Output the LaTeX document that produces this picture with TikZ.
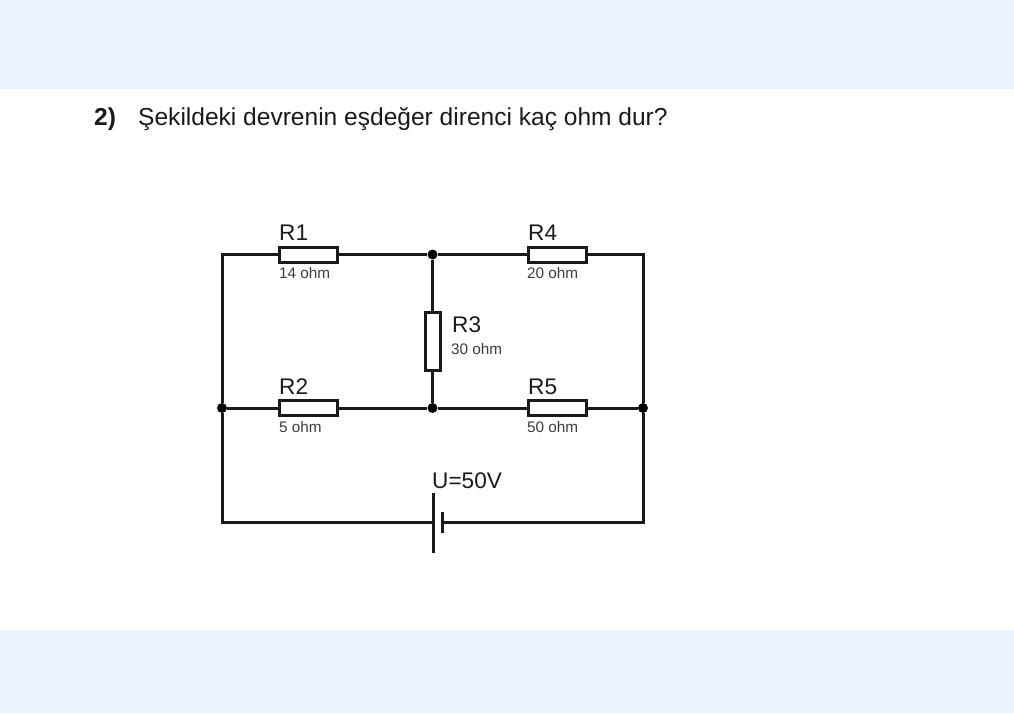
\documentclass[tikz,border=0pt]{standalone}
\usepackage{fontspec}
\setmainfont{Liberation Sans}
\usetikzlibrary{positioning}
\usetikzlibrary{calc}
\definecolor{bandblue}{HTML}{EAF2FE}
\definecolor{inkdark}{HTML}{1A1A1A}
\tikzset{
wire/.style={draw=inkdark,line width=3pt},
resbox/.style={shape=rectangle,draw=inkdark,line width=3pt,fill=white,minimum width=58pt,minimum height=15pt,inner sep=0pt},
resboxv/.style={resbox,minimum width=15pt,minimum height=58pt},
dot/.style={shape=circle,fill=black,inner sep=0pt,minimum size=10pt},
bigtext/.style={font=\fontsize{22.6}{26}\selectfont,text=inkdark,inner sep=0pt},
smalltext/.style={font=\fontsize{15.3}{18}\selectfont,text=inkdark!85,inner sep=0pt},
}
\begin{document}
\begin{tikzpicture}[x=1pt,y=-1pt]
\useasboundingbox (0,0) rectangle (1014,713);
\fill [bandblue] (0,0) rectangle (1014,89);
\fill [bandblue] (0,630) rectangle (1014,713);
\path
(94,119) node [anchor=west,inner sep=0pt,font=\fontsize{24.5}{28}\selectfont\bfseries,text=inkdark](num) {2)}
(138,119) node [anchor=west,inner sep=0pt,font=\fontsize{24.55}{28}\selectfont,text=inkdark](question) {Şekildeki devrenin eşdeğer direnci kaç ohm dur?};
\path
(222,254.5) coordinate (tl)
(643,254.5) coordinate (tr)
(222,522.5) coordinate (bl)
(643,522.5) coordinate (br)
(432.5,254.5) node [dot](top) {}
(432.5,408) node [dot](mid) {}
(222,408) node [dot](left) {}
(643,408) node [dot](right) {}
(308,254.5) node [resbox](r1) {}
(308,408) node [resbox](r2) {}
(432.5,341) node [resboxv](r3) {}
(557,254.5) node [resbox](r4) {}
(557,408) node [resbox](r5) {}
(433,493) coordinate (bat1a)
(433,553) coordinate (bat1b)
(442,512) coordinate (bat2a)
(442,533) coordinate (bat2b)
(433,522.5) coordinate (batl)
(442,522.5) coordinate (batr);
\draw [wire](left) -- (tl) -- (r1);
\draw [wire](r1) -- (top);
\draw [wire](top) -- (r4);
\draw [wire](r4) -- (tr) -- (right);
\draw [wire](left) -- (r2);
\draw [wire](r2) -- (mid);
\draw [wire](mid) -- (r5);
\draw [wire](r5) -- (right);
\draw [wire](top) -- (r3);
\draw [wire](r3) -- (mid);
\draw [wire](left) -- (bl) -- (batl);
\draw [wire](batr) -- (br) -- (right);
\draw [wire](bat1a) -- (bat1b);
\draw [wire](bat2a) -- (bat2b);
\node [bigtext,anchor=west] (l1) at (279,232.5) {R1};
\node [bigtext,anchor=west] (l2) at (279,386.5) {R2};
\node [bigtext,anchor=west] (l3) at (452,324.5) {R3};
\node [bigtext,anchor=west] (l4) at (528,232.5) {R4};
\node [bigtext,anchor=west] (l5) at (528,386.5) {R5};
\node [bigtext,anchor=west] (lu) at (432,480.5) {U=50V};
\node [smalltext,anchor=west] (v1) at (279,273) {14 ohm};
\node [smalltext,anchor=west] (v2) at (279,427) {5 ohm};
\node [smalltext,anchor=west] (v3) at (451,349) {30 ohm};
\node [smalltext,anchor=west] (v4) at (527,273) {20 ohm};
\node [smalltext,anchor=west] (v5) at (527,427) {50 ohm};
\end{tikzpicture}
\end{document}
